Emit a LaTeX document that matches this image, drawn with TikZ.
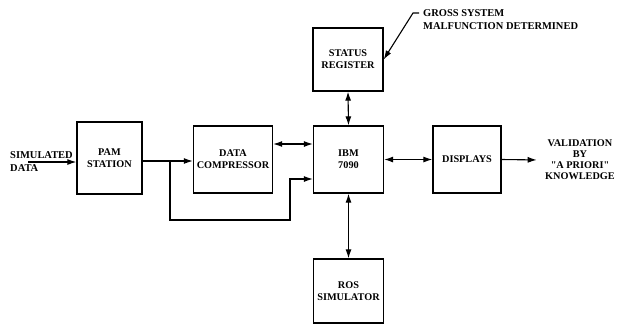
\documentclass[tikz,border=0pt]{standalone}
\usepackage{fontspec}
\setmainfont{Liberation Serif}
\usetikzlibrary{arrows.meta}
\begin{document}
\begin{tikzpicture}[
		x=1bp, y=-1bp,
		block/.style={rectangle, draw, line width=1.3bp, align=center, font=\bfseries\fontsize{10.3}{12}\selectfont},
		note/.style={align=center, font=\bfseries\fontsize{10.5}{13}\selectfont},
		flow/.style={line width=1.1bp, -{Latex[length=9bp,width=6bp]}},
		duplex/.style={line width=1.1bp, {Latex[length=9bp,width=6bp]}-{Latex[length=9bp,width=6bp]}}]

	\useasboundingbox (0,0) rectangle (621,326);

	% Bloques
	\node[block, minimum width=65bp, minimum height=72bp] (pam) at (109.5,158) {PAM\\STATION};
	\node[block, minimum width=76bp, minimum height=67bp] (dc) at (233,159.5) {DATA\\COMPRESSOR};
	\node[block, minimum width=70bp, minimum height=67bp] (ibm) at (348.5,159.5) {IBM\\7090};
	\node[block, minimum width=68bp, minimum height=67bp] (disp) at (467,159.5) {DISPLAYS};
	\node[block, minimum width=70bp, minimum height=63bp] (sr) at (348,59.5) {STATUS\\REGISTER};
	\node[block, minimum width=70bp, minimum height=64bp] (ros) at (348.5,291) {ROS\\SIMULATOR};

	% Textos
	\node[note, align=left, anchor=west, inner sep=0pt] (simdata) at (10,162) {SIMULATED\\DATA};
	\node[note, align=left, anchor=west, inner sep=0pt] (gross) at (423,19.5) {GROSS SYSTEM\\MALFUNCTION DETERMINED};
	\node[note, font=\bfseries\fontsize{10.3}{11}\selectfont] (valid) at (580,160) {VALIDATION\\BY\\\textquotedbl A PRIORI\textquotedbl\\KNOWLEDGE};

	% Conexiones
	\coordinate (sim) at (28,162);
	\draw[flow] (sim) -- (sim -| pam.west);
	\coordinate (split) at (170,161);
	\draw[flow] (pam.east |- split) -- (dc.west |- split);
	\coordinate (bend) at (290,179);
	\draw[flow] (split) -- ++(0,59) -| (bend) -- (bend -| ibm.west);
	\draw[duplex] ([yshift=15.5bp]dc.east) -- ([yshift=15.5bp]ibm.west);
	\draw[duplex] (ibm.east) -- (disp.west);
	\draw[flow, shorten >=5bp] (disp.east) -- (valid.west);
	\draw[duplex] (sr.south) -- (ibm.north);
	\draw[duplex] (ibm.south) -- (ros.north);
	\coordinate (lead) at (419,13);
	\coordinate (kink) at (413,13);
	\draw[flow] (lead) -- (kink) -- (sr.east);
\end{tikzpicture}
\end{document}
